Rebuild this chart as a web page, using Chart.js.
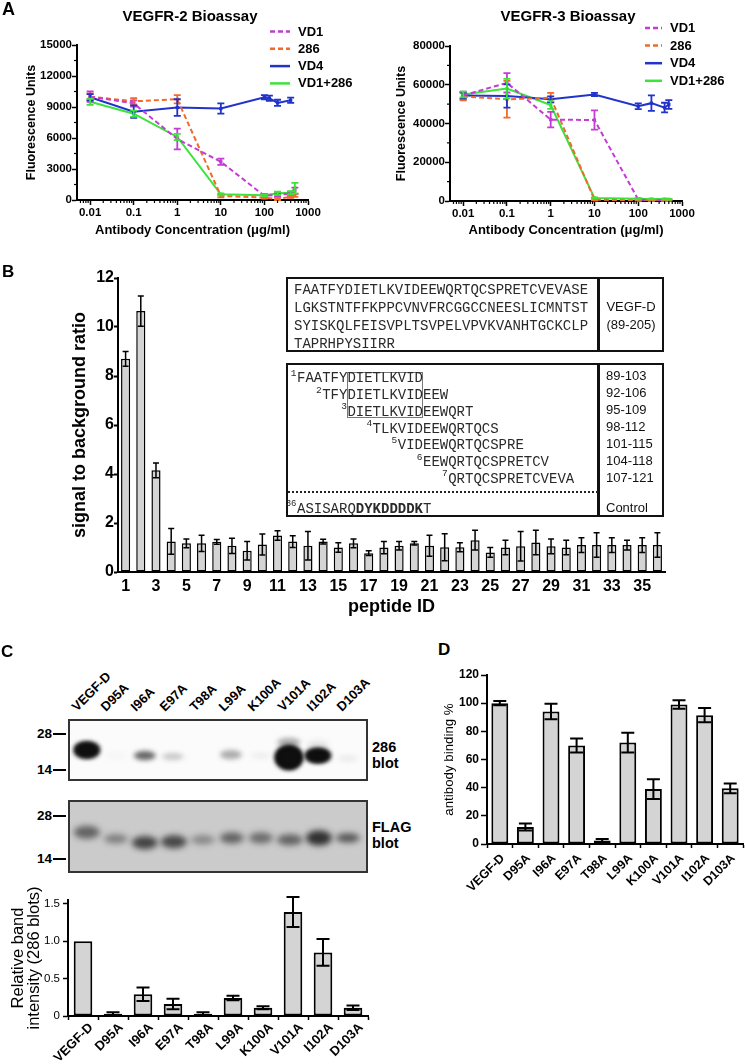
<!DOCTYPE html>
<html><head><meta charset="utf-8">
<script src="https://cdn.jsdelivr.net/npm/chart.js@4.4.1/dist/chart.umd.min.js"></script>
<style>
html,body{margin:0;padding:0;background:#fff;}
#fig{position:relative;width:745px;height:1064px;overflow:hidden;font-family:"Liberation Sans",Arial,sans-serif;color:#000;background:#fff;}
canvas{position:absolute;}
.t{position:absolute;white-space:nowrap;}
.box{position:absolute;box-sizing:border-box;}
</style>
</head><body><div id="fig"></div>
<script>
// ================= DATA =================
// Panel A: concentrations (µg/ml) and fluorescence units
const concTicks = [0.01, 0.1, 1, 10, 100, 1000];
const concR2 = [0.01, 0.1, 1, 10, 100, 200, 400, 500];
const concR2VD4 = [0.01, 0.1, 1, 10, 100, 130, 200, 400];
const concR3 = [0.01, 0.1, 1, 10, 100, 200, 400, 500];
const seriesNames = ['VD1', '286', 'VD4', 'VD1+286'];

const r2VD1 = [10000, 9350, 5900, 3700, 400, 500, 600, 900];
const r2VD1Err = [500, 300, 1000, 300, 200, 150, 200, 300];
const r2Ab286 = [10000, 9550, 9750, 400, 230, 100, 300, 450];
const r2Ab286Err = [300, 300, 400, 150, 100, 100, 100, 150];
const r2VD4 = [9950, 8550, 8950, 8850, 9950, 9850, 9400, 9650];
const r2VD4Err = [300, 600, 800, 500, 200, 250, 300, 250];
const r2Combo = [9500, 8350, 6100, 550, 450, 650, 700, 1150];
const r2ComboErr = [300, 300, 300, 100, 100, 150, 150, 500];
const r2YTicks = [0, 3000, 6000, 9000, 12000, 15000];

const r3VD1 = [54500, 61000, 42000, 41800, 700, 400, 400, 500];
const r3VD1Err = [2000, 5000, 4000, 5000, 500, 300, 300, 300];
const r3Ab286 = [54000, 52500, 53300, 700, 300, 300, 300, 300];
const r3Ab286Err = [2000, 9500, 2500, 500, 200, 200, 200, 200];
const r3VD4 = [54500, 54200, 52500, 55000, 48900, 50500, 48200, 49800];
const r3VD4Err = [1500, 6000, 1500, 800, 1500, 4000, 2500, 2300];
const r3Combo = [55000, 58000, 49500, 1500, 1200, 1000, 1000, 900];
const r3ComboErr = [1500, 5000, 2000, 300, 300, 200, 200, 200];
const r3YTicks = [0, 20000, 40000, 60000, 80000];

// Panel B: peptide array signal to background ratio
const peptideIds = ['1','2','3','4','5','6','7','8','9','10','11','12','13','14','15','16','17','18','19','20','21','22','23','24','25','26','27','28','29','30','31','32','33','34','35','36'];
const sbrValues = [8.7, 10.65, 4.15, 1.25, 1.17, 1.17, 1.23, 1.07, 0.87, 1.12, 1.49, 1.24, 1.07, 1.24, 1.0, 1.17, 0.77, 1.0, 1.07, 1.17, 1.07, 1.01, 1.01, 1.3, 0.8, 1.0, 1.05, 1.2, 1.05, 1.0, 1.1, 1.1, 1.1, 1.1, 1.1, 1.1];
const sbrErrors = [0.3, 0.62, 0.3, 0.53, 0.18, 0.33, 0.1, 0.31, 0.38, 0.43, 0.19, 0.24, 0.58, 0.1, 0.19, 0.18, 0.1, 0.25, 0.17, 0.07, 0.43, 0.55, 0.18, 0.4, 0.2, 0.3, 0.6, 0.5, 0.3, 0.3, 0.3, 0.5, 0.3, 0.2, 0.3, 0.5];
const sbrTicks = [0, 2, 4, 6, 8, 10, 12];

// Panel C / D: alanine mutants
const mutants = ['VEGF-D', 'D95A', 'I96A', 'E97A', 'T98A', 'L99A', 'K100A', 'V101A', 'I102A', 'D103A'];
const relBand = [1.0, 0.03, 0.29, 0.16, 0.03, 0.24, 0.11, 1.39, 0.85, 0.11];
const relBandErr = [0, 0.02, 0.09, 0.07, 0.02, 0.03, 0.02, 0.2, 0.18, 0.03];
const relTicks = [0, 0.5, 1, 1.5];
const binding = [100, 12, 94, 70, 2.5, 72, 39, 99, 91.5, 39.5];
const bindingErr = [1.5, 2.5, 5.5, 5, 1, 7, 7, 3, 5, 3.5];
const bindTicks = [0, 20, 40, 60, 80, 100, 120];
// Western blot band intensities (0..1)
const blot286Intensity = [0.92, 0.02, 0.62, 0.2, 0.0, 0.33, 0.06, 1.0, 0.95, 0.07];
const blotFlagIntensity = [0.55, 0.4, 0.72, 0.7, 0.35, 0.55, 0.5, 0.55, 0.82, 0.62];

// ================= HELPERS =================
const fig = document.getElementById('fig');
Chart.defaults.font.family = "'Liberation Sans', Arial, sans-serif";
Chart.defaults.color = '#000';
Chart.defaults.borderColor = '#000';

function mkCanvas(left, top, w, h) {
  const c = document.createElement('canvas');
  c.width = w; c.height = h;
  c.style.left = left + 'px'; c.style.top = top + 'px';
  c.style.width = w + 'px'; c.style.height = h + 'px';
  fig.appendChild(c);
  return c;
}
function addText(o) {
  const d = document.createElement('div');
  d.className = 't';
  d.style.fontSize = o.size + 'px';
  d.style.lineHeight = o.size + 'px';
  d.style.fontWeight = o.bold ? 'bold' : 'normal';
  if (o.font) d.style.fontFamily = o.font;
  if (o.color) d.style.color = o.color;
  const k = o.k || 0.49;
  d.style.top = (o.y - k * o.size) + 'px';
  d.style.left = o.x + 'px';
  if (o.align === 'center') d.style.transform = 'translateX(-50%)';
  if (o.align === 'right') d.style.transform = 'translateX(-100%)';
  if (o.html) d.innerHTML = o.html; else d.textContent = o.text;
  fig.appendChild(d);
  return d;
}
function addBox(left, top, w, h, css) {
  const d = document.createElement('div');
  d.className = 'box';
  d.style.left = left + 'px'; d.style.top = top + 'px';
  d.style.width = w + 'px'; d.style.height = h + 'px';
  Object.assign(d.style, css || {});
  fig.appendChild(d);
  return d;
}

const errorBarPlugin = {
  id: 'errorBars',
  afterDatasetsDraw(chart, args, opts) {
    const ctx = chart.ctx;
    chart.data.datasets.forEach((ds, di) => {
      if (!ds.errs) return;
      const meta = chart.getDatasetMeta(di);
      const ys = chart.scales[meta.yAxisID];
      ctx.save();
      ctx.strokeStyle = ds.errColor || ds.borderColor;
      ctx.lineWidth = opts.lineWidth || 1.5;
      ctx.setLineDash([]);
      meta.data.forEach((el, i) => {
        const e = ds.errs[i];
        if (!e) return;
        const v = ds.data[i];
        const val = (typeof v === 'object') ? v.y : v;
        const x = el.x;
        const y1 = ys.getPixelForValue(val + e), y2 = ys.getPixelForValue(val - e);
        const h = (opts.cap || 6) / 2;
        ctx.beginPath();
        ctx.moveTo(x, y1); ctx.lineTo(x, y2);
        ctx.moveTo(x - h, y1); ctx.lineTo(x + h, y1);
        ctx.moveTo(x - h, y2); ctx.lineTo(x + h, y2);
        ctx.stroke();
      });
      ctx.restore();
    });
  }
};
const legendPlugin = {
  id: 'customLegend',
  afterDraw(chart, args, o) {
    if (!o || o.x === undefined) return;
    const ctx = chart.ctx;
    ctx.save();
    chart.data.datasets.forEach((ds, i) => {
      const y = o.y + i * o.dy;
      ctx.strokeStyle = ds.borderColor;
      ctx.lineWidth = 2.5;
      ctx.setLineDash(ds.borderDash || []);
      ctx.beginPath(); ctx.moveTo(o.x, y); ctx.lineTo(o.x + o.len, y); ctx.stroke();
      ctx.setLineDash([]);
      ctx.fillStyle = '#000';
      ctx.font = "bold 13px 'Liberation Sans', Arial, sans-serif";
      ctx.textBaseline = 'middle';
      ctx.fillText(ds.label, o.x + o.len + o.gap, y + 0.5);
    });
    ctx.restore();
  }
};
const minorTickPlugin = {
  id: 'minorTicks',
  afterDraw(chart, args, opts) {
    const ctx = chart.ctx;
    ['x', 'y'].forEach(id => {
      const s = chart.scales[id]; const conf = opts && opts[id];
      if (!s || !conf) return;
      ctx.save(); ctx.strokeStyle = '#000'; ctx.lineWidth = conf.width || 1.2;
      conf.values.forEach(v => {
        const p = s.getPixelForValue(v);
        ctx.beginPath();
        if (id === 'x') { ctx.moveTo(p, s.top); ctx.lineTo(p, s.top + conf.len); }
        else { ctx.moveTo(s.right, p); ctx.lineTo(s.right - conf.len, p); }
        ctx.stroke();
      });
      ctx.restore();
    });
  }
};

const common = {
  responsive: false, animation: false, devicePixelRatio: 1,
};

// ================= PANEL A =================
const seriesColors = ['#c43cd3', '#f2692a', '#2233cc', '#3be33b'];
const seriesDash = [[5, 3], [5, 3], [], []];
const logMinor = [];
for (let d = -3; d <= 2; d++) for (let m = 2; m <= 9; m++) {
  const v = m * Math.pow(10, d);
  if (v > 0.0051 && v < 1000) logMinor.push(v);
}

function bioassay(canvas, cfg) {
  return new Chart(canvas, {
    type: 'line',
    data: {
      datasets: cfg.series.map((s, k) => ({
        label: seriesNames[k],
        data: s.conc.map((c, i) => ({ x: c, y: s.vals[i] })),
        errs: s.errs,
        borderColor: seriesColors[k], backgroundColor: seriesColors[k],
        borderWidth: 2, borderDash: seriesDash[k],
        pointStyle: 'rect', pointRadius: 2.3, pointBorderWidth: 0,
        tension: 0, fill: false
      }))
    },
    options: {
      ...common,
      layout: { padding: cfg.pad },
      scales: {
        x: {
          type: 'logarithmic', min: 0.005, max: 1000,
          afterBuildTicks: s => { s.ticks = concTicks.map(v => ({ value: v })); },
          afterFit: s => { s.height = cfg.xH; },
          ticks: { font: { size: 11.5, weight: 'bold' }, padding: 1, autoSkip: false, maxRotation: 0, callback: v => String(v) },
          grid: { drawOnChartArea: false, tickLength: 5, tickWidth: 1.5, tickColor: '#000' },
          border: { color: '#000', width: 2 },
          title: { display: true, text: 'Antibody Concentration (μg/ml)', font: { size: 13, weight: 'bold' }, padding: { top: 0, bottom: 2 } }
        },
        y: {
          min: 0, max: cfg.yTicks[cfg.yTicks.length - 1],
          afterBuildTicks: s => { s.ticks = cfg.yTicks.map(v => ({ value: v })); },
          afterFit: s => { s.width = cfg.yW; },
          ticks: { font: { size: 11.5, weight: 'bold' }, padding: 0, callback: v => String(v) },
          grid: { drawOnChartArea: false, tickLength: 5, tickWidth: 1.5, tickColor: '#000' },
          border: { color: '#000', width: 2 },
          title: { display: true, text: 'Fluorescence Units', font: { size: 12.5, weight: 'bold' }, padding: { top: 24, bottom: 0 } }
        }
      },
      plugins: {
        legend: { display: false }, tooltip: { enabled: false },
        errorBars: { cap: 7, lineWidth: 1.8 },
        customLegend: cfg.legend,
        minorTicks: { x: { values: logMinor, len: 3 }, y: { values: cfg.yMinor, len: 3 } }
      }
    },
    plugins: [errorBarPlugin, legendPlugin, minorTickPlugin]
  });
}

bioassay(mkCanvas(0, 0, 370, 240), {
  pad: { top: 45, right: 62, bottom: 0, left: 0 }, xH: 40, yW: 77,
  yTicks: r2YTicks, yMinor: [1500, 4500, 7500, 10500, 13500],
  legend: { x: 270, y: 31.5, dy: 17.3, len: 20, gap: 8 },
  series: [
    { conc: concR2, vals: r2VD1, errs: r2VD1Err },
    { conc: concR2, vals: r2Ab286, errs: r2Ab286Err },
    { conc: concR2VD4, vals: r2VD4, errs: r2VD4Err },
    { conc: concR2, vals: r2Combo, errs: r2ComboErr }
  ]
});
bioassay(mkCanvas(370, 0, 375, 240), {
  pad: { top: 46, right: 63, bottom: 0, left: 0 }, xH: 39, yW: 80,
  yTicks: r3YTicks, yMinor: [10000, 30000, 50000, 70000],
  legend: { x: 275, y: 28, dy: 17.6, len: 17, gap: 8 },
  series: [
    { conc: concR3, vals: r3VD1, errs: r3VD1Err },
    { conc: concR3, vals: r3Ab286, errs: r3Ab286Err },
    { conc: concR3, vals: r3VD4, errs: r3VD4Err },
    { conc: concR3, vals: r3Combo, errs: r3ComboErr }
  ]
});
addText({ x: 2, y: 8.5, size: 18, bold: true, text: 'A' });
addText({ x: 190, y: 15.4, size: 15, bold: true, align: 'center', text: 'VEGFR-2 Bioassay' });
addText({ x: 568, y: 15.4, size: 15, bold: true, align: 'center', text: 'VEGFR-3 Bioassay' });

// ================= PANEL B =================
new Chart(mkCanvas(0, 250, 680, 375), {
  type: 'bar',
  data: {
    labels: peptideIds,
    datasets: [{
      data: sbrValues, errs: sbrErrors, errColor: '#000',
      backgroundColor: '#d4d4d4', borderColor: '#000', borderWidth: 1.5, borderSkipped: false,
      barPercentage: 0.6, categoryPercentage: 1
    }]
  },
  options: {
    ...common,
    layout: { padding: { top: 28, right: 15, bottom: 0, left: 0 } },
    scales: {
      x: {
        afterFit: s => { s.height = 53; },
        ticks: { font: { size: 16, weight: 'bold' }, padding: 5, autoSkip: false, maxRotation: 0, callback: (v, i) => (i % 2 === 0 ? peptideIds[i] : '') },
        grid: { display: false, drawTicks: false },
        border: { color: '#000', width: 2 },
        title: { display: true, text: 'peptide ID', font: { size: 18, weight: 'bold' }, padding: { top: 0, bottom: 7 } }
      },
      y: {
        min: 0, max: 12,
        afterBuildTicks: s => { s.ticks = sbrTicks.map(v => ({ value: v })); },
        afterFit: s => { s.width = 118; },
        ticks: { font: { size: 16, weight: 'bold' }, padding: 0 },
        grid: { drawOnChartArea: false, tickLength: 4, tickWidth: 2, tickColor: '#000' },
        border: { color: '#000', width: 2 },
        title: { display: true, text: 'signal to background ratio', font: { size: 18, weight: 'bold' }, padding: { top: 69, bottom: 0 } }
      }
    },
    plugins: { legend: { display: false }, tooltip: { enabled: false }, errorBars: { cap: 6, lineWidth: 1.5 } }
  },
  plugins: [errorBarPlugin]
});
addText({ x: 2, y: 271, size: 17, bold: true, text: 'B' });

// inset boxes
const MONO = "'Liberation Mono', 'Courier New', monospace";
const seqColor = '#2a2a2a';
addBox(286, 277, 378, 75, { border: '2.5px solid #111' });
addBox(597, 277, 2.5, 75, { background: '#111' });
['FAATFYDIETLKVIDEEWQRTQCSPRETCVEVASE', 'LGKSTNTFFKPPCVNVFRCGGCCNEESLICMNTST', 'SYISKQLFEISVPLTSVPELVPVKVANHTGCKCLP', 'TAPRHPYSIIRR']
  .forEach((s, i) => addText({ x: 294, y: 289 + i * 18, size: 14, font: MONO, k: 0.437, color: seqColor, text: s }));
addText({ x: 631, y: 306, size: 13, align: 'center', color: '#111', text: 'VEGF-D' });
addText({ x: 631, y: 324, size: 13, align: 'center', color: '#111', text: '(89-205)' });

addBox(286, 363, 378, 154, { border: '2.5px solid #111' });
addBox(597, 363, 2.5, 154, { background: '#111' });
addBox(288, 491, 310, 2, { borderTop: '2px dotted #222' });
addBox(347, 372, 76, 46, { border: '1px solid #777' });
const peptides = ['FAATFYDIETLKVID', 'TFYDIETLKVIDEEW', 'DIETLKVIDEEWQRT', 'TLKVIDEEWQRTQCS', 'VIDEEWQRTQCSPRE', 'EEWQRTQCSPRETCV', 'QRTQCSPRETCVEVA'];
const peptideRanges = ['89-103', '92-106', '95-109', '98-112', '101-115', '104-118', '107-121'];
peptides.forEach((s, i) => {
  const x = 297 + i * 3 * 8.4, y = 377.5 + i * 16.75;
  addText({ x: x, y: y, size: 14, font: MONO, k: 0.437, color: seqColor, text: s });
  addText({ x: x - 0.5, y: y - 4.5, size: 9.5, font: MONO, k: 0.437, color: seqColor, align: 'right', text: String(i + 1) });
  addText({ x: 606, y: 375.5 + i * 16.9, size: 13, color: '#111', text: peptideRanges[i] });
});
addText({ x: 297, y: 508, size: 14, font: MONO, k: 0.437, color: seqColor, html: 'ASISARQ<b>DYKDDDDK</b>T' });
addText({ x: 296.5, y: 503.5, size: 9, font: MONO, k: 0.437, color: seqColor, align: 'right', text: '36' });
addText({ x: 606, y: 507, size: 13, color: '#111', text: 'Control' });

// ================= PANEL C =================
addText({ x: 1, y: 651, size: 17, bold: true, text: 'C' });
// lane labels
mutants.forEach((n, i) => {
  const d = document.createElement('div');
  d.className = 't';
  d.textContent = n;
  d.style.fontSize = '13px'; d.style.lineHeight = '13px'; d.style.fontWeight = 'bold';
  const base = 0.8465 * 13;
  d.style.left = (77 + i * 29.4) + 'px';
  d.style.top = (712 - base) + 'px';
  d.style.transformOrigin = '0px ' + base + 'px';
  d.style.transform = 'rotate(-45deg)';
  fig.appendChild(d);
});
// blots (image-like panels)
function drawBlot(left, top, w, h, bg, intensity, geom) {
  const c = mkCanvas(left, top, w, h);
  const ctx = c.getContext('2d');
  ctx.fillStyle = bg; ctx.fillRect(0, 0, w, h);
  intensity.forEach((a, i) => {
    if (a <= 0) return;
    const cx = 17 + i * 29.4 + (geom.dx ? geom.dx[i] : 0);
    const cy = geom.y[i], ry = geom.h[i], rx = geom.w ? geom.w[i] : 12;
    ctx.save();
    ctx.filter = 'blur(' + geom.blur + 'px)';
    ctx.fillStyle = 'rgba(15,15,15,' + Math.min(1, a) + ')';
    for (let r = 0; r < (a > 0.85 ? 3 : 1); r++) {
      ctx.beginPath(); ctx.ellipse(cx, cy, rx, ry, 0, 0, Math.PI * 2); ctx.fill();
    }
    if (geom.smear && geom.smear[i]) {
      ctx.fillStyle = 'rgba(30,30,30,' + geom.smear[i] + ')';
      ctx.beginPath(); ctx.ellipse(cx, cy - ry - 4, rx * 0.9, 5, 0, 0, Math.PI * 2); ctx.fill();
    }
    ctx.restore();
  });
  c.style.boxSizing = 'border-box';
  c.style.border = '2px solid #333';
  return c;
}
drawBlot(68, 719, 300, 62, '#fbfbfb', blot286Intensity, {
  y: [31, 37, 37, 38, 37, 36, 37, 39, 37, 40],
  h: [8, 4, 5, 4, 4, 5, 3, 12, 7, 3],
  w: [12, 11, 11, 11, 11, 11, 10, 13, 12, 10],
  dx: [0, 0, 0, -1, 0, -1, 0, -1, -1, 0],
  smear: [0, 0, 0, 0, 0, 0, 0, 0.35, 0.1, 0],
  blur: 2.5
});
drawBlot(68, 800, 300, 73, '#cbcbcb', blotFlagIntensity, {
  y: [32, 39, 43, 42, 40, 38, 38, 40, 38, 38],
  h: [7, 5, 7, 7, 5, 6, 6, 6, 8, 5],
  w: [13, 12, 13, 13, 12, 12, 12, 13, 13, 12],
  blur: 3
});
[[734, '28'], [770, '14'], [816, '28'], [859, '14']].forEach(([y, t]) => {
  addText({ x: 52, y: y, size: 13.5, bold: true, align: 'right', text: t });
  addBox(53, y - 1, 13, 2, { background: '#000' });
});
addText({ x: 372, y: 747, size: 14.5, bold: true, text: '286' });
addText({ x: 372, y: 763, size: 14.5, bold: true, text: 'blot' });
addText({ x: 372, y: 827, size: 14.5, bold: true, text: 'FLAG' });
addText({ x: 372, y: 843, size: 14.5, bold: true, text: 'blot' });

function mutantBarChart(canvas, cfg) {
  return new Chart(canvas, {
    type: 'bar',
    data: {
      labels: mutants,
      datasets: [{
        data: cfg.values, errs: cfg.errs, errColor: '#000',
        backgroundColor: '#d4d4d4', borderColor: '#000', borderWidth: 2, borderSkipped: false,
        barPercentage: cfg.barPct, categoryPercentage: 1
      }]
    },
    options: {
      ...common,
      layout: { padding: cfg.pad },
      scales: {
        x: {
          afterFit: s => { s.height = cfg.xH; s.paddingLeft = 0; s.paddingRight = 0; },
          ticks: { font: { size: cfg.xFont, weight: 'bold' }, padding: cfg.xPad, autoSkip: false, minRotation: 45, maxRotation: 45, labelOffset: cfg.labelOffset },
          grid: { drawOnChartArea: false, tickLength: 4, tickWidth: 1.5, tickColor: '#000' },
          border: { color: '#000', width: 2 }
        },
        y: {
          min: 0, max: cfg.max,
          afterBuildTicks: s => { s.ticks = cfg.ticks.map(v => ({ value: v })); },
          afterFit: s => { s.width = cfg.yW; },
          ticks: { font: cfg.yFont, padding: cfg.yPad, callback: cfg.tickFmt },
          grid: { drawOnChartArea: false, tickLength: cfg.yTick, tickWidth: 1.5, tickColor: '#000' },
          border: { color: '#000', width: 2 },
          title: cfg.title
        }
      },
      plugins: { legend: { display: false }, tooltip: { enabled: false }, errorBars: { cap: 13, lineWidth: 2 } }
    },
    plugins: [errorBarPlugin]
  });
}
mutantBarChart(mkCanvas(0, 880, 380, 184), {
  values: relBand, errs: relBandErr, barPct: 0.62, max: 1.55, ticks: relTicks,
  pad: { top: 20, right: 12, bottom: 0, left: 0 }, xH: 48, yW: 68,
  xFont: 13, xPad: 0, labelOffset: 8,
  yFont: { size: 11.5 }, yPad: 3, yTick: 5,
  tickFmt: v => (v === 0 ? '0' : v.toFixed(1)),
  title: { display: true, text: ['Relative band', 'intensity (286 blots)'], font: { size: 16.5, lineHeight: 1 }, padding: { top: 10, bottom: 0 } }
});

// ================= PANEL D =================
addText({ x: 438, y: 649, size: 17, bold: true, text: 'D' });
mutantBarChart(mkCanvas(380, 640, 365, 300), {
  values: binding, errs: bindingErr, barPct: 0.66, max: 120, ticks: bindTicks,
  pad: { top: 35, right: 2, bottom: 0, left: 0 }, xH: 96, yW: 107,
  xFont: 12.5, xPad: 3, labelOffset: 3,
  yFont: { size: 12, weight: 'bold' }, yPad: 2, yTick: 6,
  tickFmt: v => String(v),
  title: { display: true, text: 'antibody binding %', font: { size: 13.3 }, padding: { top: 61, bottom: 0 } }
});
</script>
</body></html>
